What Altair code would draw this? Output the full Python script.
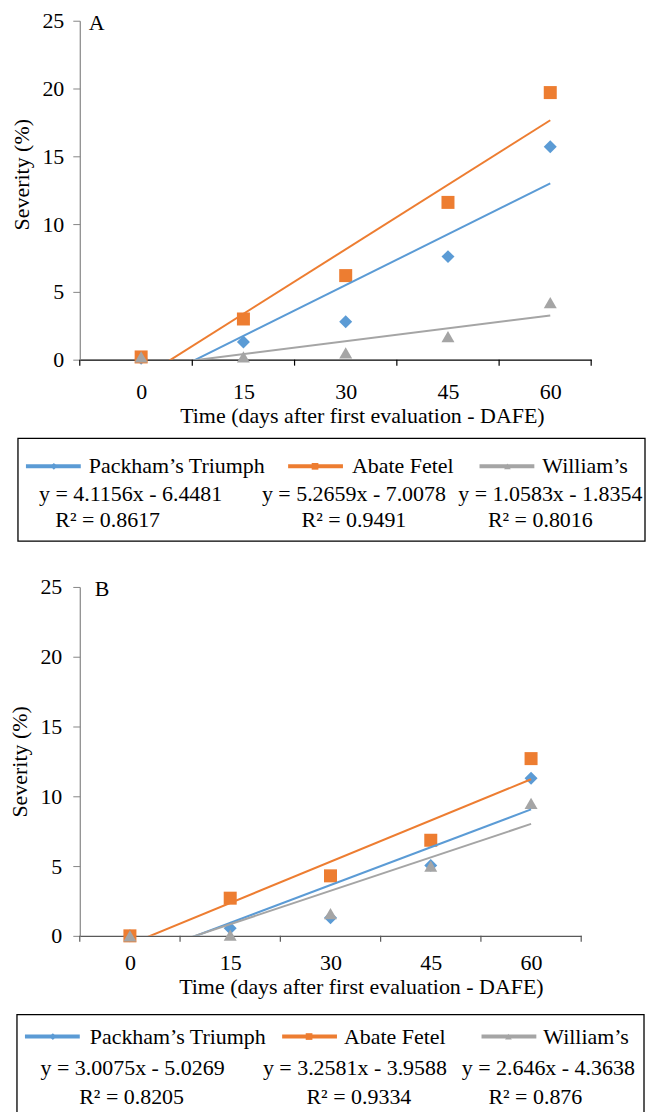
import altair as alt
import pandas as pd

# ---------------- data ----------------
days = [0, 15, 30, 45, 60]
tick_labels = ["0", "15", "30", "45", "60"]
series = ["Packham’s Triumph", "Abate Fetel", "William’s"]
colors = ["#5B9BD5", "#ED7D31", "#A5A5A5"]
shapes = ["diamond", "square", "triangle-up"]

a_packham = [0.1, 1.3, 2.8, 7.6, 15.7]
a_abate = [0.2, 3.0, 6.2, 11.6, 19.7]
a_william = [0.2, 0.2, 0.5, 1.7, 4.2]
a_eq = ["y = 4.1156x - 6.4481", "y = 5.2659x - 7.0078", "y = 1.0583x - 1.8354"]
a_r2 = ["R² = 0.8617", "R² = 0.9491", "R² = 0.8016"]

b_packham = [0.0, 0.55, 1.3, 5.05, 11.3]
b_abate = [0.0, 2.7, 4.3, 6.85, 12.7]
b_william = [0.0, 0.05, 1.6, 5.0, 9.5]
b_eq = ["y = 3.0075x - 5.0269", "y = 3.2581x - 3.9588", "y = 2.646x - 4.3638"]
b_r2 = ["R² = 0.8205", "R² = 0.9334", "R² = 0.876"]

FONT = "Liberation Serif"
FS = 22


def make_panel(vals, eqs, r2s, letter, W, H, xdom, xticks, lay):
    rows = []
    for s, v in zip(series, vals):
        for d, y in zip(days, v):
            rows.append({"series": s, "day": d, "sev": y})
    df = pd.DataFrame(rows)
    leg = pd.DataFrame({"series": series, "eq": eqs, "r2": r2s})

    xs = alt.Scale(domain=xdom, nice=False, zero=False)
    ys = alt.Scale(domain=[0, 25], nice=False, zero=True)
    color = alt.Color("series:N", scale=alt.Scale(domain=series, range=colors), legend=None)
    shape = alt.Shape("series:N", scale=alt.Scale(domain=series, range=shapes), legend=None)

    xaxis = alt.Axis(
        values=days, format="d", ticks=False, tickSize=0, grid=False,
        domainColor=lay["xaxis_color"], domainWidth=1.2,
        labelPadding=lay["xlabel_pad"], labelFont=FONT, labelFontSize=FS, labelColor="black",
        title="Time (days after first evaluation - DAFE)", titleFont=FONT, titleFontSize=FS,
        titleFontWeight="normal", titleColor="black", titlePadding=lay["xtitle_pad"],
        titleX=lay["xtitle_x"])
    yaxis = alt.Axis(
        values=[0, 5, 10, 15, 20, 25], grid=False, tickSize=7, tickColor="#868686",
        domainColor="#868686", domainWidth=1.2, labelPadding=lay["ylabel_pad"],
        labelFont=FONT, labelFontSize=FS, labelColor="black",
        title="Severity (%)", titleFont=FONT, titleFontSize=FS, titleFontWeight="normal",
        titleColor="black", titlePadding=lay["ytitle_pad"], titleY=lay["ytitle_y"])

    points = alt.Chart(df).mark_point(filled=True, size=170, opacity=1).encode(
        x=alt.X("day:Q", scale=xs, axis=xaxis),
        y=alt.Y("sev:Q", scale=ys, axis=yaxis),
        color=color, shape=shape,
    )

    lines = alt.Chart(df).transform_regression(
        "day", "sev", groupby=["series"], extent=[0, 60]
    ).mark_line(clip=True, strokeWidth=2).encode(
        x=alt.X("day:Q", scale=xs),
        y=alt.Y("sev:Q", scale=ys),
        color=color, detail="series:N",
    )

    ticks = alt.Chart(pd.DataFrame({"t": xticks})).mark_rule(
        color=lay["xaxis_color"], strokeWidth=1.2
    ).encode(
        x=alt.X("t:Q", scale=xs), y=alt.value(H), y2=alt.value(H + 6),
    )

    tag = alt.Chart(pd.DataFrame({"t": [letter]})).mark_text(
        font=FONT, fontSize=FS, align="left", baseline="alphabetic", color="black"
    ).encode(text="t:N", x=alt.value(lay["letter_x"]), y=alt.value(lay["letter_y"]))

    bx0, bx1, by0, by1 = lay["box"]
    box = alt.Chart(pd.DataFrame({"b": [0]})).mark_rect(
        fill="white", fillOpacity=0, stroke="black", strokeWidth=1.3
    ).encode(x=alt.value(bx0), x2=alt.value(bx1), y=alt.value(by0), y2=alt.value(by1))

    r1, r2, r3 = lay["rows"]
    legend_layers = [box]
    for i, s in enumerate(series):
        lx0, lx1, mx, nx, ex, rx = lay["items"][i]
        sub = alt.Chart(leg).transform_filter(alt.datum.series == s)
        legend_layers.append(sub.mark_rule(color=colors[i], strokeWidth=4).encode(
            x=alt.value(lx0), x2=alt.value(lx1), y=alt.value(r1)))
        legend_layers.append(sub.mark_point(filled=True, size=45, opacity=1, shape=shapes[i],
                                            color=colors[i]).encode(
            x=alt.value(mx), y=alt.value(r1)))
        legend_layers.append(sub.mark_text(font=FONT, fontSize=FS, align="left",
                                           baseline="middle", color="black").encode(
            text="series:N", x=alt.value(nx), y=alt.value(r1)))
        legend_layers.append(sub.mark_text(font=FONT, fontSize=FS, align="center",
                                           baseline="middle", color="black").encode(
            text="eq:N", x=alt.value(ex), y=alt.value(r2)))
        legend_layers.append(sub.mark_text(font=FONT, fontSize=FS, align="center",
                                           baseline="middle", color="black").encode(
            text="r2:N", x=alt.value(rx), y=alt.value(r3)))

    return alt.layer(points, lines, ticks, tag, *legend_layers).properties(width=W, height=H)


lay_a = dict(
    xaxis_color="black", xlabel_pad=22, xtitle_pad=3, xtitle_x=283,
    ylabel_pad=9, ytitle_pad=8, ytitle_y=154, letter_x=9, letter_y=9,
    box=(-62, 567, 419, 522), rows=(447, 475, 501),
    items=[(-54, 1, -26, 9, 51, 28),
           (209, 264, 236, 273, 275, 275),
           (401, 456, 429, 464, 472, 462)],
)
lay_b = dict(
    xaxis_color="#595959", xlabel_pad=17, xtitle_pad=3, xtitle_x=282,
    ylabel_pad=11, ytitle_pad=8, ytitle_y=175, letter_x=15, letter_y=9,
    box=(-63, 566, 429, 545), rows=(451, 483, 512),
    items=[(-55, 0, -27, 10, 53, 52),
           (203, 258, 230, 265, 276, 280),
           (403, 458, 430, 465, 470, 457)],
)

panel_a = make_panel([a_packham, a_abate, a_william], a_eq, a_r2, "A",
                     513, 340, [-9, 66], [-9, 7.5, 22.5, 37.5, 52.5, 66], lay_a)
panel_b = make_panel([b_packham, b_abate, b_william], b_eq, b_r2, "B",
                     503, 350, [-7.5, 67.5], [-7.5, 7.5, 22.5, 37.5, 52.5, 67.5], lay_b)

chart = alt.vconcat(panel_a, panel_b, spacing=34).properties(
    padding={"left": 1, "top": 0, "right": 0, "bottom": 0}
).configure(
    background="white", font=FONT
).configure_view(stroke=None)

chart.save("out.html", embed_options={"renderer": "svg", "actions": False})
